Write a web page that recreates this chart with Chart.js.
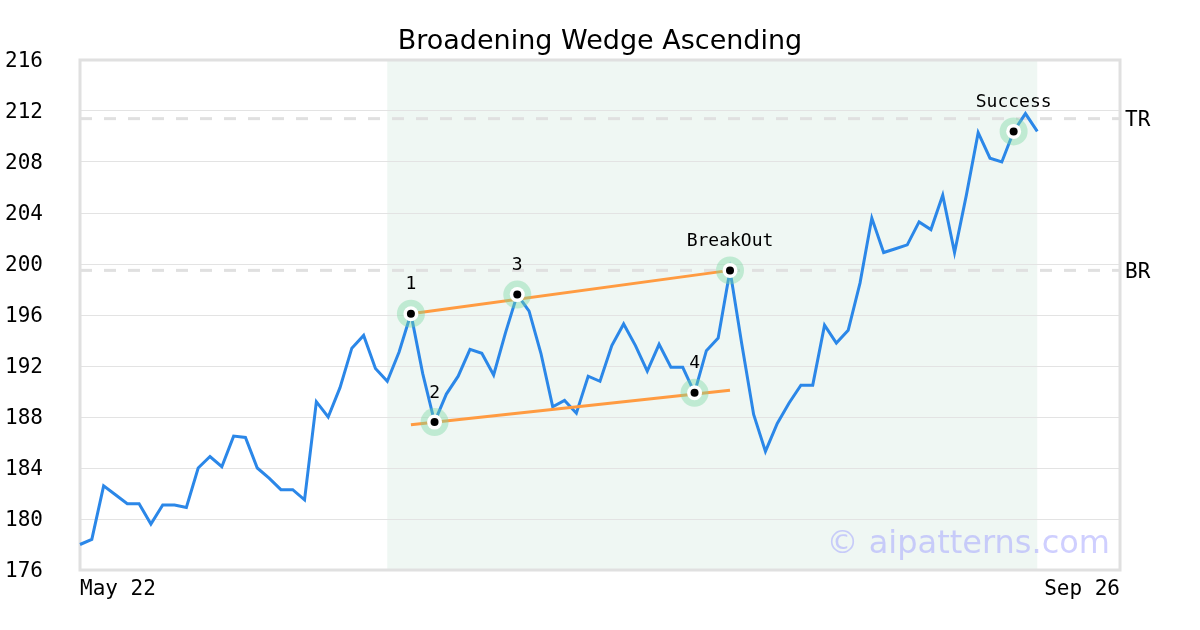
<!DOCTYPE html>
<html>
<head>
<meta charset="utf-8">
<title>Broadening Wedge Ascending</title>
<script src="https://cdn.jsdelivr.net/npm/chart.js@4/dist/chart.umd.min.js"></script>
<style>
  html, body { margin: 0; padding: 0; background: #fff; }
  #wrap { width: 1200px; height: 630px; }
</style>
</head>
<body>
<div id="wrap"><canvas id="patternChart" width="1200" height="630"></canvas></div>
<script>
// trading days May 22 .. Sep 26 (x axis runs past the last price)
const dayCount = 89;
const tickLabels = ['May 22', 'Sep 26'];

const prices = [
  178.0, 178.4, 182.6, 181.9, 181.2, 181.2, 179.6, 181.1, 181.1, 180.9,
  184.0, 184.9, 184.1, 186.5, 186.4, 184.0, 183.2, 182.3, 182.3, 181.5,
  189.2, 188.0, 190.3, 193.4, 194.4, 191.8, 190.8, 193.1, 196.1, 191.4,
  187.6, 189.8, 191.2, 193.3, 193.0, 191.3, 194.6, 197.6, 196.3, 193.0,
  188.8, 189.3, 188.3, 191.2, 190.8, 193.6, 195.3, 193.6, 191.6, 193.7,
  191.9, 191.9, 189.9, 193.2, 194.2, 199.5, 193.7, 188.2, 185.3, 187.5,
  189.1, 190.5, 190.5, 195.2, 193.8, 194.8, 198.5, 203.6, 200.9, 201.2,
  201.5, 203.3, 202.7, 205.4, 200.9, 205.4, 210.3, 208.3, 208.0, 210.4,
  211.8, 210.4
];

// pivots of the pattern
const pivotIdx = [28, 30, 37, 52, 55, 79];
const pivotText = ['1', '2', '3', '4', 'BreakOut', 'Success'];

// wedge trend lines (start / end index and value)
const upperIdx = [28, 55];
const upperVal = [196.1, 199.5];
const lowerIdx = [28, 55];
const lowerVal = [187.4, 190.1];

// horizontal levels
const levelNames = ['TR', 'BR'];
const levelValues = [211.4, 199.5];

// shaded pattern window (index range)
const shadeRange = [26, 81];

const yTicks = [176, 180, 184, 188, 192, 196, 200, 204, 208, 212, 216];

const labels = Array.from({ length: dayCount }, (_, i) => i);

function sparse(idx, vals) {
  const arr = new Array(dayCount).fill(null);
  idx.forEach((k, j) => { arr[k] = vals[j]; });
  return arr;
}
const pivotVals = pivotIdx.map(i => prices[i]);
const pivotSeries = sparse(pivotIdx, pivotVals);

const MONO = "'DejaVu Sans Mono', monospace";
const SANS = "'DejaVu Sans', sans-serif";

const decor = {
  id: 'decor',
  beforeDraw(chart) {
    const { ctx, chartArea: a, scales: { x } } = chart;
    const x0 = x.getPixelForValue(shadeRange[0]);
    const x1 = x.getPixelForValue(shadeRange[1]);
    ctx.save();
    ctx.fillStyle = '#eff7f3';
    ctx.fillRect(x0, a.top, x1 - x0, a.bottom - a.top);
    ctx.restore();
  },
  beforeDatasetsDraw(chart) {
    const { ctx, chartArea: a, scales: { y } } = chart;
    ctx.save();
    ctx.strokeStyle = '#e0e0e0';
    ctx.lineWidth = 3;
    ctx.setLineDash([12, 12]);
    levelValues.forEach((v, i) => {
      const py = y.getPixelForValue(v);
      ctx.beginPath();
      ctx.moveTo(a.left, py);
      ctx.lineTo(a.right, py);
      ctx.stroke();
      ctx.fillStyle = '#000';
      ctx.font = '21px ' + MONO;
      ctx.textAlign = 'left';
      ctx.textBaseline = 'middle';
      ctx.fillText(levelNames[i], a.right + 5, py + 2);
    });
    ctx.setLineDash([]);
    ctx.strokeStyle = '#e0e0e0';
    ctx.lineWidth = 3;
    ctx.strokeRect(a.left, a.top, a.right - a.left, a.bottom - a.top);
    ctx.restore();
  },
  afterDatasetsDraw(chart) {
    const { ctx, scales: { x, y } } = chart;
    ctx.save();
    ctx.fillStyle = '#000';
    ctx.font = '18px ' + MONO;
    ctx.textAlign = 'center';
    ctx.textBaseline = 'middle';
    pivotIdx.forEach((k, j) => {
      ctx.fillText(pivotText[j], x.getPixelForValue(k), y.getPixelForValue(pivotVals[j]) - 29);
    });
    ctx.restore();
  },
  afterDraw(chart) {
    const { ctx } = chart;
    ctx.save();
    ctx.fillStyle = 'rgba(160,160,255,0.5)';
    ctx.font = '32px ' + SANS;
    ctx.textAlign = 'right';
    ctx.textBaseline = 'alphabetic';
    ctx.fillText('© aipatterns.com', 1110, 553);
    ctx.restore();
  }
};

new Chart(document.getElementById('patternChart').getContext('2d'), {
  type: 'line',
  data: {
    labels: labels,
    datasets: [
      {
        data: pivotSeries,
        showLine: false,
        pointRadius: 4,
        pointBackgroundColor: '#000',
        pointBorderWidth: 0
      },
      {
        data: pivotSeries,
        showLine: false,
        pointRadius: 7.5,
        pointBackgroundColor: '#fff',
        pointBorderWidth: 0
      },
      {
        data: pivotSeries,
        showLine: false,
        pointRadius: 14,
        pointBackgroundColor: 'rgba(120,215,160,0.4)',
        pointBorderWidth: 0
      },
      {
        data: sparse(upperIdx, upperVal),
        borderColor: '#ff9b41',
        borderWidth: 3,
        pointRadius: 0,
        spanGaps: true
      },
      {
        data: sparse(lowerIdx, lowerVal),
        borderColor: '#ff9b41',
        borderWidth: 3,
        pointRadius: 0,
        spanGaps: true
      },
      {
        data: prices,
        borderColor: '#2b87e8',
        borderWidth: 3,
        pointRadius: 0,
        tension: 0
      }
    ]
  },
  options: {
    responsive: false,
    animation: false,
    events: [],
    layout: { padding: 0 },
    plugins: {
      legend: { display: false },
      tooltip: { enabled: false },
      title: {
        display: true,
        text: 'Broadening Wedge Ascending',
        color: '#000',
        font: { family: SANS, size: 27, weight: 'normal' },
        padding: { top: 25.5, bottom: 2.1 }
      }
    },
    scales: {
      x: {
        type: 'category',
        offset: false,
        grid: { display: false, drawTicks: false },
        border: { display: false },
        afterFit(scale) { scale.height = 60; },
        ticks: {
          autoSkip: false,
          maxRotation: 0,
          align: 'inner',
          padding: 7,
          color: '#000',
          font: { family: MONO, size: 21 },
          callback(val, i) {
            if (i === 0) return tickLabels[0];
            if (i === dayCount - 1) return tickLabels[1];
            return '';
          }
        }
      },
      y: {
        min: yTicks[0],
        max: yTicks[yTicks.length - 1],
        afterFit(scale) { scale.width = 80; },
        afterBuildTicks(scale) { scale.ticks = yTicks.map(v => ({ value: v })); },
        grid: { color: '#e3e3e3', lineWidth: 1, drawTicks: false },
        border: { display: false },
        ticks: {
          padding: 37,
          labelOffset: 2,
          color: '#000',
          font: { family: MONO, size: 21 }
        }
      },
      // empty right-hand axis that reserves room for the TR / BR labels
      yRight: {
        position: 'right',
        min: yTicks[0],
        max: yTicks[yTicks.length - 1],
        afterFit(scale) { scale.width = 80; },
        grid: { display: false, drawTicks: false },
        border: { display: false },
        ticks: { display: false }
      }
    }
  },
  plugins: [decor]
});
</script>
</body>
</html>
